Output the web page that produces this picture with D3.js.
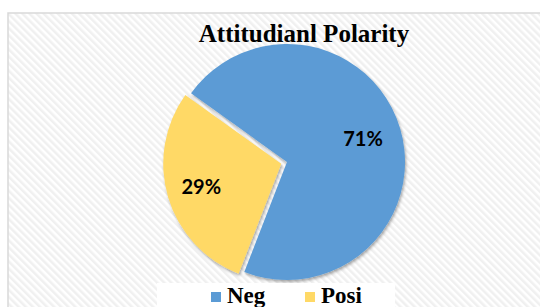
<!DOCTYPE html>
<html><head><meta charset="utf-8">
<script src="https://cdn.jsdelivr.net/npm/d3@7"></script>
<style>html,body{margin:0;padding:0;background:#fff;overflow:hidden}</style>
</head><body>
<script>
const categories = ["Neg", "Posi"];
const values = [71, 29];
const colors = ["#5B9BD5", "#FFD966"];
const title = "Attitudianl Polarity";

const W = 540, H = 307;
const svg = d3.select("body").append("svg").attr("width", W).attr("height", H);
const defs = svg.append("defs");
const pat = defs.append("pattern").attr("id", "stripes").attr("patternUnits", "userSpaceOnUse")
  .attr("width", 5).attr("height", 5).attr("patternTransform", "rotate(-45)");
pat.append("rect").attr("width", 5).attr("height", 5).attr("fill", "#ffffff");
pat.append("rect").attr("width", 2.5).attr("height", 5).attr("fill", "#f0f0f0");
const f = defs.append("filter").attr("id", "shadow").attr("x", "-20%").attr("y", "-20%").attr("width", "140%").attr("height", "140%");
f.append("feDropShadow").attr("dx", 1).attr("dy", 2).attr("stdDeviation", 1.8).attr("flood-color", "#000").attr("flood-opacity", 0.35);

// chart area
svg.append("rect").attr("x", 8).attr("y", 13).attr("width", W).attr("height", H)
  .attr("fill", "url(#stripes)").attr("stroke", "#d9d9d9").attr("stroke-width", 1.5);

svg.append("text").attr("x", 304).attr("y", 42).attr("text-anchor", "middle")
  .attr("font-family", "Liberation Serif, Times New Roman, serif").attr("font-weight", "bold")
  .attr("font-size", 25).text(title);

const cx = 287, cy = 162, r = 118, explode = [0, 6];
const pie = d3.pie().sort(null).value(d => d).startAngle(-54.4 * Math.PI / 180).endAngle((360 - 54.4) * Math.PI / 180);
const arcs = pie(values);
const arc = d3.arc().innerRadius(0).outerRadius(r);
const labelArc = d3.arc().innerRadius(r * 0.69).outerRadius(r * 0.69);

const g = svg.append("g").attr("transform", `translate(${cx},${cy})`);
arcs.forEach((a, i) => {
  const mid = (a.startAngle + a.endAngle) / 2;
  const ox = Math.sin(mid) * explode[i], oy = -Math.cos(mid) * explode[i];
  const sg = g.append("g").attr("transform", `translate(${ox},${oy})`);
  sg.append("path").attr("d", arc(a)).attr("fill", colors[i]).attr("filter", "url(#shadow)");
});
arcs.forEach((a, i) => {
  const mid = (a.startAngle + a.endAngle) / 2;
  const ox = Math.sin(mid) * explode[i], oy = -Math.cos(mid) * explode[i];
  const c = labelArc.centroid(a);
  g.append("text").attr("x", c[0] + ox - 2).attr("y", c[1] + oy + 7).attr("text-anchor", "middle")
    .attr("font-family", "Lato, Calibri, sans-serif").attr("font-weight", "bold").attr("font-size", 20)
    .attr("fill", "#000").text(Math.round(values[i]) + "%");
});

// legend
svg.append("rect").attr("x", 157).attr("y", 283).attr("width", 238).attr("height", 30).attr("fill", "#fff");
const lx = [211, 305];
categories.forEach((c, i) => {
  svg.append("rect").attr("x", lx[i]).attr("y", 292).attr("width", 10).attr("height", 10).attr("fill", colors[i]);
  svg.append("text").attr("x", lx[i] + 16).attr("y", 303)
    .attr("font-family", "Liberation Serif, Times New Roman, serif").attr("font-weight", "bold")
    .attr("font-size", 23).text(c);
});
</script>
</body></html>
